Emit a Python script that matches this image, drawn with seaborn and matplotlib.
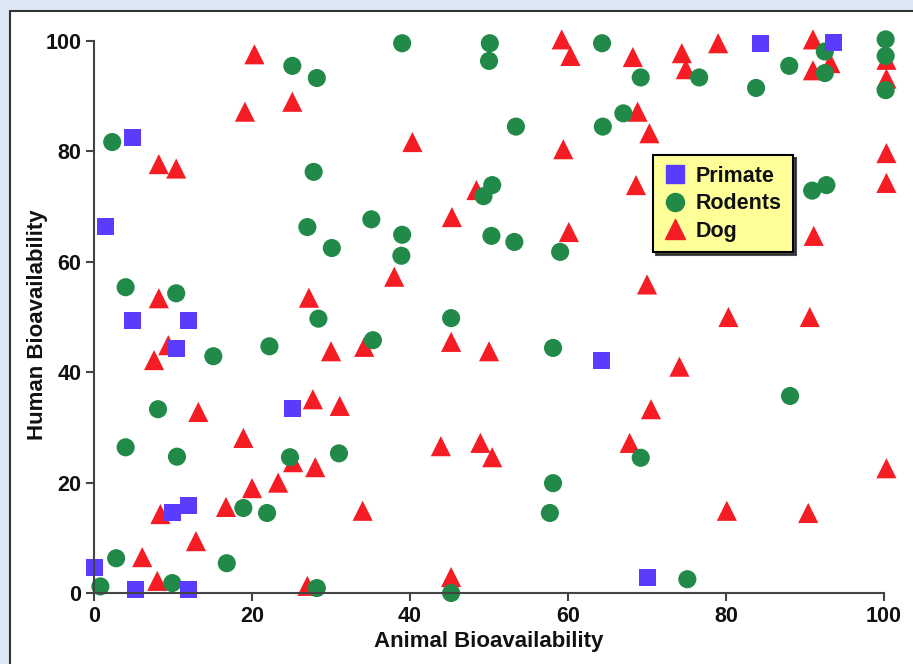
import matplotlib
matplotlib.use("Agg")
import pandas as pd
import matplotlib.pyplot as plt
import seaborn as sns
from matplotlib.patches import Rectangle

# values
primate_x = [0, 1.5, 4.9, 4.9, 11.9, 10.4, 25.1, 9.9, 11.9, 5.2, 11.9, 64.2, 70.1, 84.3, 93.6]
primate_y = [4.6, 66.4, 82.6, 49.4, 49.4, 44.3, 33.4, 14.5, 15.9, 0.6, 0.6, 42.2, 2.9, 99.6, 99.8]

rodent_x = [0.8, 2.8, 9.9, 16.8, 4.0, 10.5, 8.1, 18.9, 21.9, 15.1, 22.2, 24.8, 28.2, 45.2,
            35.3, 58.1, 31.0, 58.1, 57.7, 28.4, 45.2, 88.1, 69.2, 75.1,
            2.3, 4.0, 10.4, 25.1, 28.2, 27.8, 27.0,
            39.0, 50.1, 50.0, 64.3, 53.4, 64.4, 67.0, 50.4, 49.3, 35.1, 39.0, 38.9, 30.1,
            50.3, 53.2, 59.0, 69.2, 76.6, 88.0, 83.8, 92.5, 92.5, 100.2, 100.2, 100.2, 90.9, 92.7]
rodent_y = [1.2, 6.3, 1.8, 5.4, 26.4, 24.7, 33.3, 15.4, 14.5, 42.9, 44.7, 24.6, 0.9, 0.0,
            45.8, 44.4, 25.3, 19.9, 14.5, 49.7, 49.8, 35.7, 24.5, 2.5,
            81.7, 55.4, 54.3, 95.5, 93.3, 76.3, 66.3,
            99.6, 99.6, 96.4, 99.6, 84.5, 84.5, 86.9, 73.9, 71.9, 67.7, 64.9, 61.1, 62.5,
            64.7, 63.6, 61.8, 93.4, 93.4, 95.5, 91.5, 98.1, 94.2, 100.3, 97.3, 91.1, 72.9, 73.9]

dog_x = [20.3, 19.1, 25.1, 8.2, 10.4, 8.2, 27.2,
         9.4, 7.6, 13.2, 18.9, 27.7, 25.2, 28.0, 20.0, 23.3, 16.7, 8.4, 12.9, 6.1, 8.0, 27.0,
         30.0, 34.2, 45.2, 50.0, 31.1, 43.9, 48.9, 50.4, 34.0, 45.2,
         40.3, 45.3, 48.4, 38.0, 59.2, 60.3, 59.4, 60.1,
         68.2, 74.4, 74.9, 79.0, 91.0, 91.0, 93.2, 100.3, 100.3, 68.8, 70.3, 68.6, 91.1,
         100.3, 100.3, 70.0, 80.3, 90.6,
         74.1, 70.5, 67.8, 100.3, 80.1, 90.4]
dog_y = [97.6, 87.2, 89.0, 77.7, 76.9, 53.4, 53.5,
         44.9, 42.2, 32.8, 28.1, 35.1, 23.7, 22.8, 19.0, 20.0, 15.6, 14.3, 9.4, 6.5, 2.2, 1.3,
         43.8, 44.6, 45.5, 43.8, 33.9, 26.6, 27.2, 24.6, 14.9, 2.9,
         81.7, 68.1, 73.0, 57.3, 100.3, 97.3, 80.4, 65.4,
         97.1, 97.8, 94.9, 99.6, 100.3, 94.7, 96.0, 96.6, 93.2, 87.2, 83.3, 73.9, 64.7,
         79.7, 74.3, 55.9, 50.0, 50.0,
         41.0, 33.3, 27.2, 22.6, 14.9, 14.5]

species = ["Primate", "Rodents", "Dog"]
colors = {"Primate": "#5a3cff", "Rodents": "#218a48", "Dog": "#f51c24"}
markers = {"Primate": "s", "Rodents": "o", "Dog": "^"}
sizes = {"Primate": 150, "Rodents": 170, "Dog": 210}

df = pd.concat([
    pd.DataFrame({"animal": primate_x, "human": primate_y, "species": "Primate"}),
    pd.DataFrame({"animal": rodent_x, "human": rodent_y, "species": "Rodents"}),
    pd.DataFrame({"animal": dog_x, "human": dog_y, "species": "Dog"}),
])

sns.set_theme(style="ticks")
plt.rcParams["font.family"] = ["Liberation Sans", "DejaVu Sans"]
plt.rcParams["font.weight"] = "bold"
plt.rcParams["text.color"] = "#111111"
plt.rcParams["axes.labelcolor"] = "#111111"
plt.rcParams["xtick.labelcolor"] = "#111111"
plt.rcParams["ytick.labelcolor"] = "#111111"

fig = plt.figure(figsize=(9.13, 6.64), dpi=100, facecolor="#dde8f4")
fig.patches.append(Rectangle((10 / 913, -0.05), 1.1, 1 - 11 / 664 + 0.05,
                             transform=fig.transFigure, facecolor="white",
                             edgecolor="#333333", linewidth=1.5, zorder=-1))
ax = fig.add_axes([0.1030, 0.1069, 0.8653, 0.8313])
ax.set_facecolor("none")

# draw dog first so circles and squares sit on top like the original
for sp in ["Dog", "Rodents", "Primate"]:
    sns.scatterplot(data=df[df["species"] == sp], x="animal", y="human",
                    color=colors[sp], marker=markers[sp], s=sizes[sp],
                    edgecolor="none", linewidth=0, clip_on=False,
                    label=sp, ax=ax, legend=False)

ax.set_xlim(0, 100)
ax.set_ylim(0, 100)
ax.set_xticks([0, 20, 40, 60, 80, 100])
ax.set_yticks([0, 20, 40, 60, 80, 100])
ax.tick_params(direction="out", length=6, width=1.5, color="#444444",
               labelsize=15.5, pad=3)
for lab in ax.get_xticklabels() + ax.get_yticklabels():
    lab.set_fontweight("bold")
for side in ["left", "bottom"]:
    ax.spines[side].set_color("#444444")
    ax.spines[side].set_linewidth(1.5)
sns.despine(ax=ax)
ax.set_xlabel("Animal Bioavailability", fontsize=16, fontweight="bold", labelpad=3)
ax.set_ylabel("Human Bioavailability", fontsize=16, fontweight="bold")
ax.yaxis.set_label_coords(-0.058, 0.486)

handles = [plt.Line2D([], [], linestyle="none", marker=markers[sp], color=colors[sp],
                      markersize=13 if sp != "Dog" else 14) for sp in species]
leg = fig.legend(handles, species, loc="upper left",
                 bbox_to_anchor=(653 / 913, 1 - 155 / 664), borderaxespad=0,
                 frameon=True, fancybox=False, shadow={"color": "#222222", "alpha": 0.8},
                 facecolor="#ffff99", edgecolor="black", framealpha=1,
                 prop={"weight": "bold", "size": 15.5}, handlelength=1.0,
                 handletextpad=0.5, labelspacing=0.3, borderpad=0.5)
leg.get_frame().set_linewidth(1.5)

fig.savefig("out.png", dpi=100, facecolor=fig.get_facecolor())
